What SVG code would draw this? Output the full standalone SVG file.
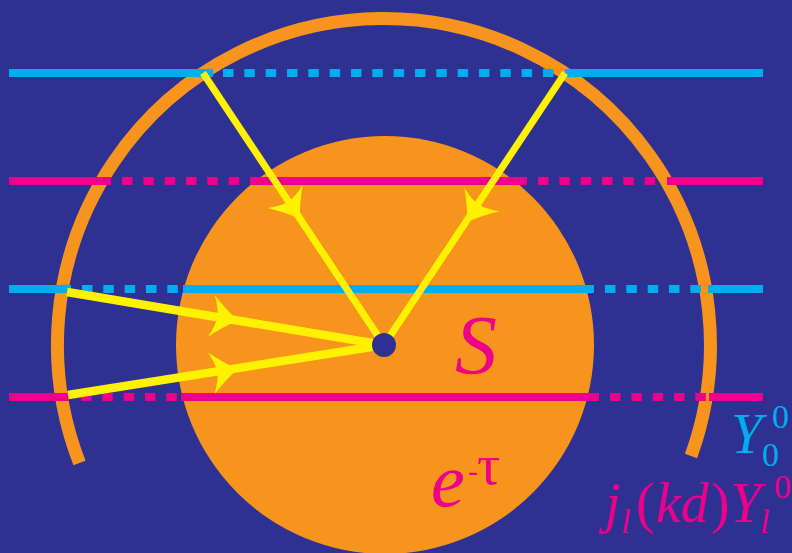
<svg xmlns="http://www.w3.org/2000/svg" xmlns:xlink="http://www.w3.org/1999/xlink" width="792" height="553" viewBox="0 0 792 553">
<defs>
<style>
.cy{stroke:#00AEEF;stroke-width:8;fill:none}
.mg{stroke:#EC008C;stroke-width:8;fill:none}
.d{stroke-dasharray:10.5 10.83}
.ray{stroke:#FFF200;stroke-width:7;fill:none;stroke-linecap:butt}
.w{stroke-width:8.5}
.t{font-family:"Liberation Serif","Times New Roman",serif}
.i{font-style:italic}
</style>
<path id="ah" d="M0 0 Q-13 -8 -27 -21 Q-21 -8 -21 0 Q-21 8 -27 21 Q-13 8 0 0 Z" fill="#FFF200"/>
</defs>
<rect x="0" y="0" width="792" height="553" fill="#2E3192"/>
<g id="outer-arc">
<path d="M79.5 463 A326.5 326.5 0 1 1 691 456" fill="none" stroke="#F7941D" stroke-width="13"/>
</g>
<g id="disk">
<circle cx="385" cy="345" r="209" fill="#F7941D"/>
</g>
<g id="lines">
<line class="cy" x1="9" y1="73" x2="213" y2="73"/>
<line class="cy d" x1="223" y1="73" x2="554" y2="73"/>
<line class="cy" x1="565" y1="73" x2="763" y2="73"/>
<line class="mg" x1="9" y1="181" x2="111" y2="181"/>
<line class="mg d" x1="122" y1="181" x2="240" y2="181"/>
<line class="mg" x1="250" y1="181" x2="527" y2="181"/>
<line class="mg d" x1="538" y1="181" x2="656" y2="181"/>
<line class="mg" x1="667" y1="181" x2="763" y2="181"/>
<line class="cy" x1="9" y1="289" x2="71" y2="289"/>
<line class="cy d" x1="82" y1="289" x2="178" y2="289"/>
<line class="cy" x1="183" y1="289" x2="594" y2="289"/>
<line class="cy d" x1="605" y1="289" x2="701" y2="289"/>
<line class="cy" x1="708" y1="289" x2="763" y2="289"/>
<line class="mg" x1="9" y1="397" x2="69" y2="397"/>
<line class="mg d" x1="81" y1="397" x2="177" y2="397"/>
<line class="mg" x1="181" y1="397" x2="599" y2="397"/>
<line class="mg d" x1="610" y1="397" x2="706" y2="397"/>
<line class="mg" x1="709" y1="397" x2="763" y2="397"/>
</g>
<g id="rays">
<line class="ray" x1="203" y1="73" x2="384" y2="345"/>
<line class="ray" x1="565" y1="73" x2="384" y2="345"/>
<line class="ray w" x1="67" y1="292" x2="384" y2="345"/>
<line class="ray w" x1="68" y1="395" x2="384" y2="345"/>
<use xlink:href="#ah" transform="translate(300 219) rotate(56.5)"/>
<use xlink:href="#ah" transform="translate(467 222) rotate(123.6)"/>
<use xlink:href="#ah" transform="translate(238 320.5) rotate(9.5)"/>
<use xlink:href="#ah" transform="translate(238 369) rotate(-9)"/>
</g>
<g id="source">
<circle cx="384" cy="345" r="12" fill="#2E3192"/>
</g>
<g id="label-S">
<text class="t i" x="455" y="374" font-size="84" fill="#EC008C">S</text>
</g>
<g id="label-etau" fill="#EC008C">
<text class="t i" x="431" y="506" font-size="76">e</text>
<text class="t" x="468" y="481" font-size="30">-</text>
<text class="t" x="477" y="484" font-size="58">τ</text>
</g>
<g id="label-Y00" fill="#00AEEF">
<text class="t i" x="731" y="453" font-size="56">Y</text>
<text class="t" x="762" y="466" font-size="34">0</text>
<text class="t" x="772" y="428" font-size="34">0</text>
</g>
<g id="label-jY" fill="#EC008C">
<text class="t i" x="605" y="522" font-size="56">j</text>
<text class="t i" x="621" y="533" font-size="34">l</text>
<text class="t" x="636" y="522" font-size="56">(</text>
<text class="t i" x="656" y="522" font-size="56">kd</text>
<text class="t" x="711" y="522" font-size="56">)</text>
<text class="t i" x="730" y="522" font-size="56">Y</text>
<text class="t i" x="760" y="533" font-size="34">l</text>
<text class="t" x="774" y="498" font-size="34">0</text>
</g>
</svg>
